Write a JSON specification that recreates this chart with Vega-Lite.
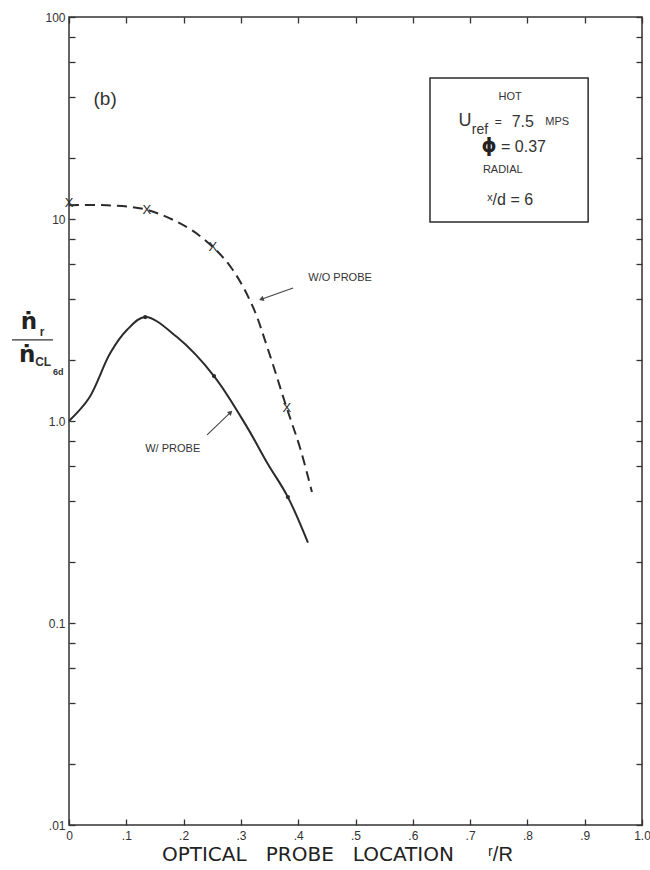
{
  "$schema": "https://vega.github.io/schema/vega-lite/v6.json",
  "width": 573,
  "height": 808,
  "autosize": {"type": "none"},
  "padding": {"left": 69, "top": 17, "right": 8, "bottom": 45},
  "background": "white",
  "config": {
    "view": {"stroke": "#333", "strokeWidth": 1.5},
    "font": "Liberation Sans",
    "axis": {"labelFont": "Liberation Sans", "labelColor": "#333", "tickColor": "#333", "tickWidth": 1.3, "domain": false, "grid": false}
  },
  "datasets": {
    "withProbe": [
      {"x": 0.0, "y": 1.0},
      {"x": 0.035, "y": 1.3},
      {"x": 0.072, "y": 2.17},
      {"x": 0.101, "y": 2.82},
      {"x": 0.133, "y": 3.27},
      {"x": 0.188, "y": 2.61},
      {"x": 0.253, "y": 1.67},
      {"x": 0.311, "y": 0.93},
      {"x": 0.346, "y": 0.62},
      {"x": 0.382, "y": 0.42},
      {"x": 0.417, "y": 0.25}
    ],
    "withoutProbe": [
      {"x": 0.0, "y": 11.7},
      {"x": 0.066, "y": 11.7},
      {"x": 0.136, "y": 11.1},
      {"x": 0.206, "y": 9.1},
      {"x": 0.251, "y": 7.27},
      {"x": 0.286, "y": 5.59},
      {"x": 0.321, "y": 3.67},
      {"x": 0.346, "y": 2.32},
      {"x": 0.38, "y": 1.16},
      {"x": 0.403, "y": 0.74},
      {"x": 0.424, "y": 0.445}
    ],
    "xMarks": [
      {"x": 0.0, "y": 12.0},
      {"x": 0.136, "y": 11.1},
      {"x": 0.251, "y": 7.27},
      {"x": 0.38, "y": 1.16}
    ],
    "dots": [
      {"x": 0.133, "y": 3.27},
      {"x": 0.253, "y": 1.67},
      {"x": 0.382, "y": 0.42}
    ]
  },
  "layer": [
    {
      "data": {"name": "withProbe"},
      "mark": {"type": "line", "interpolate": "catmull-rom", "color": "#2b2b2b", "strokeWidth": 2},
      "encoding": {
        "x": {"field": "x", "type": "quantitative", "scale": {"domain": [0, 1]},
          "axis": {"orient": "bottom", "title": null, "values": [0, 0.1, 0.2, 0.3, 0.4, 0.5, 0.6, 0.7, 0.8, 0.9, 1],
            "labelExpr": "datum.value == 0 ? '0' : datum.value == 1 ? '1.0' : '.' + round(datum.value * 10)",
            "tickSize": -6, "labelPadding": 11, "labelFontSize": 12, "labelFlush": false, "labelOverlap": false}},
        "y": {"field": "y", "type": "quantitative", "scale": {"type": "log", "domain": [0.01, 100]},
          "axis": {"orient": "left", "title": null,
            "values": [0.01, 0.02, 0.04, 0.06, 0.08, 0.1, 0.2, 0.4, 0.6, 0.8, 1, 2, 4, 6, 8, 10, 20, 40, 60, 80, 100],
            "labelExpr": "datum.value == 100 ? '100' : datum.value == 10 ? '10' : datum.value == 1 ? '1.0' : datum.value == 0.1 ? '0.1' : datum.value == 0.01 ? '.01' : ''",
            "tickSize": -6, "labelPadding": 10, "labelFontSize": 12, "labelFlush": false, "labelOverlap": false}}
      }
    },
    {
      "data": {"name": "withoutProbe"},
      "mark": {"type": "line", "interpolate": "catmull-rom", "color": "#2b2b2b", "strokeWidth": 2, "strokeDash": [10, 6]},
      "encoding": {
        "x": {"field": "x", "type": "quantitative",
          "axis": {"orient": "top", "title": null, "values": [0, 0.1, 0.2, 0.3, 0.4, 0.5, 0.6, 0.7, 0.8, 0.9, 1], "labels": false, "tickSize": -6}},
        "y": {"field": "y", "type": "quantitative",
          "axis": {"orient": "right", "title": null,
            "values": [0.01, 0.02, 0.04, 0.06, 0.08, 0.1, 0.2, 0.4, 0.6, 0.8, 1, 2, 4, 6, 8, 10, 20, 40, 60, 80, 100],
            "labels": false, "tickSize": -6}}
      }
    },
    {
      "data": {"name": "xMarks"},
      "mark": {"type": "text", "text": "X", "fontSize": 13, "color": "#2b2b2b", "font": "Liberation Sans"},
      "encoding": {
        "x": {"field": "x", "type": "quantitative", "axis": null},
        "y": {"field": "y", "type": "quantitative", "axis": null}
      }
    },
    {
      "data": {"name": "dots"},
      "mark": {"type": "point", "filled": true, "size": 18, "color": "#2b2b2b", "opacity": 1},
      "encoding": {
        "x": {"field": "x", "type": "quantitative", "axis": null},
        "y": {"field": "y", "type": "quantitative", "axis": null}
      }
    },
    {
      "data": {"values": [{"x": 0.63, "x2": 0.906, "y": 49.9, "y2": 9.67}]},
      "mark": {"type": "rect", "fill": null, "stroke": "#2b2b2b", "strokeWidth": 1.5},
      "encoding": {
        "x": {"field": "x", "type": "quantitative", "axis": null},
        "x2": {"field": "x2"},
        "y": {"field": "y", "type": "quantitative", "axis": null},
        "y2": {"field": "y2"}
      }
    },
    {
      "data": {"values": [
        {"x": 0.77, "y": 40.2, "t": "HOT"},
        {"x": 0.757, "y": 17.5, "t": "RADIAL"},
        {"x": 0.473, "y": 5.1, "t": "W/O PROBE"},
        {"x": 0.181, "y": 0.726, "t": "W/ PROBE"},
        {"x": 0.852, "y": 30.2, "t": "MPS"}
      ]},
      "mark": {"type": "text", "fontSize": 11, "color": "#333", "font": "Liberation Sans", "clip": false},
      "encoding": {
        "x": {"field": "x", "type": "quantitative", "axis": null},
        "y": {"field": "y", "type": "quantitative", "axis": null},
        "text": {"field": "t"}
      }
    },
    {
      "data": {"values": [
        {"x": 0.691, "y": 30.6, "t": "U"}
      ]},
      "mark": {"type": "text", "fontSize": 18, "color": "#333", "font": "Liberation Sans"},
      "encoding": {
        "x": {"field": "x", "type": "quantitative", "axis": null},
        "y": {"field": "y", "type": "quantitative", "axis": null},
        "text": {"field": "t"}
      }
    },
    {
      "data": {"values": [
        {"x": 0.703, "y": 27.6, "t": "ref"}
      ]},
      "mark": {"type": "text", "fontSize": 14, "align": "left", "color": "#333", "font": "Liberation Sans"},
      "encoding": {
        "x": {"field": "x", "type": "quantitative", "axis": null},
        "y": {"field": "y", "type": "quantitative", "axis": null},
        "text": {"field": "t"}
      }
    },
    {
      "data": {"values": [
        {"x": 0.749, "y": 30.2, "t": "="}
      ]},
      "mark": {"type": "text", "fontSize": 12, "color": "#333", "font": "Liberation Sans"},
      "encoding": {
        "x": {"field": "x", "type": "quantitative", "axis": null},
        "y": {"field": "y", "type": "quantitative", "axis": null},
        "text": {"field": "t"}
      }
    },
    {
      "data": {"values": [
        {"x": 0.792, "y": 30.2, "t": "7.5"},
        {"x": 0.77, "y": 12.4, "t": "ˣ/d = 6"}
      ]},
      "mark": {"type": "text", "fontSize": 16, "color": "#333", "font": "Liberation Sans"},
      "encoding": {
        "x": {"field": "x", "type": "quantitative", "axis": null},
        "y": {"field": "y", "type": "quantitative", "axis": null},
        "text": {"field": "t"}
      }
    },
    {
      "data": {"values": [
        {"x": 0.733, "y": 22.9, "t": "ϕ"}
      ]},
      "mark": {"type": "text", "fontSize": 19, "fontWeight": "bold", "color": "#222", "font": "DejaVu Sans"},
      "encoding": {
        "x": {"field": "x", "type": "quantitative", "axis": null},
        "y": {"field": "y", "type": "quantitative", "axis": null},
        "text": {"field": "t"}
      }
    },
    {
      "data": {"values": [
        {"x": 0.754, "y": 22.7, "t": "= 0.37"}
      ]},
      "mark": {"type": "text", "fontSize": 16, "align": "left", "color": "#333", "font": "Liberation Sans"},
      "encoding": {
        "x": {"field": "x", "type": "quantitative", "axis": null},
        "y": {"field": "y", "type": "quantitative", "axis": null},
        "text": {"field": "t"}
      }
    },
    {
      "data": {"values": [
        {"x": 0.063, "y": 39.3, "t": "(b)"}
      ]},
      "mark": {"type": "text", "fontSize": 19, "color": "#333", "font": "Liberation Sans"},
      "encoding": {
        "x": {"field": "x", "type": "quantitative", "axis": null},
        "y": {"field": "y", "type": "quantitative", "axis": null},
        "text": {"field": "t"}
      }
    },
    {
      "data": {"values": [
        {"x": 0.391, "y": 4.55, "x2": 0.337, "y2": 4.02},
        {"x": 0.241, "y": 0.853, "x2": 0.281, "y2": 1.096}
      ]},
      "mark": {"type": "rule", "color": "#444", "strokeWidth": 1.1},
      "encoding": {
        "x": {"field": "x", "type": "quantitative", "axis": null},
        "y": {"field": "y", "type": "quantitative", "axis": null},
        "x2": {"field": "x2"},
        "y2": {"field": "y2"}
      }
    },
    {
      "data": {"values": [{"x": 0.337, "y": 4.02}]},
      "mark": {"type": "point", "shape": "triangle", "angle": 250, "filled": true, "size": 30, "color": "#444", "opacity": 1},
      "encoding": {
        "x": {"field": "x", "type": "quantitative", "axis": null},
        "y": {"field": "y", "type": "quantitative", "axis": null}
      }
    },
    {
      "data": {"values": [{"x": 0.281, "y": 1.096}]},
      "mark": {"type": "point", "shape": "triangle", "angle": 46, "filled": true, "size": 30, "color": "#444", "opacity": 1},
      "encoding": {
        "x": {"field": "x", "type": "quantitative", "axis": null},
        "y": {"field": "y", "type": "quantitative", "axis": null}
      }
    },
    {
      "data": {"values": [
        {"x": -0.07, "y": 3.09, "t": "ṅ"},
        {"x": -0.073, "y": 2.12, "t": "ṅ"}
      ]},
      "mark": {"type": "text", "fontSize": 23, "fontWeight": "bold", "color": "#222", "font": "DejaVu Sans", "clip": false},
      "encoding": {
        "x": {"field": "x", "type": "quantitative", "axis": null},
        "y": {"field": "y", "type": "quantitative", "axis": null},
        "text": {"field": "t"}
      }
    },
    {
      "data": {"values": [
        {"x": -0.051, "y": 2.75, "t": "r"},
        {"x": -0.059, "y": 1.95, "t": "CL"}
      ]},
      "mark": {"type": "text", "fontSize": 12, "fontWeight": "bold", "align": "left", "color": "#333", "font": "Liberation Sans", "clip": false},
      "encoding": {
        "x": {"field": "x", "type": "quantitative", "axis": null},
        "y": {"field": "y", "type": "quantitative", "axis": null},
        "text": {"field": "t"}
      }
    },
    {
      "data": {"values": [
        {"x": -0.028, "y": 1.74, "t": "6d"}
      ]},
      "mark": {"type": "text", "fontSize": 9, "fontWeight": "bold", "align": "left", "color": "#333", "font": "Liberation Sans", "clip": false},
      "encoding": {
        "x": {"field": "x", "type": "quantitative", "axis": null},
        "y": {"field": "y", "type": "quantitative", "axis": null},
        "text": {"field": "t"}
      }
    },
    {
      "data": {"values": [{"x": -0.0995, "x2": -0.028, "y": 2.52}]},
      "mark": {"type": "rule", "color": "#333", "strokeWidth": 1.3, "clip": false},
      "encoding": {
        "x": {"field": "x", "type": "quantitative", "axis": null},
        "x2": {"field": "x2"},
        "y": {"field": "y", "type": "quantitative", "axis": null}
      }
    },
    {
      "data": {"values": [
        {"x": 0.417, "y": 0.0071, "t": "OPTICAL\u00a0\u00a0\u00a0PROBE\u00a0\u00a0\u00a0LOCATION"}
      ]},
      "mark": {"type": "text", "fontSize": 20, "color": "#222", "font": "DejaVu Sans", "clip": false},
      "encoding": {
        "x": {"field": "x", "type": "quantitative", "axis": null},
        "y": {"field": "y", "type": "quantitative", "axis": null},
        "text": {"field": "t"}
      }
    },
    {
      "data": {"values": [
        {"x": 0.753, "y": 0.0071, "t": "ʳ/R"}
      ]},
      "mark": {"type": "text", "fontSize": 20, "color": "#222", "font": "Liberation Sans", "clip": false},
      "encoding": {
        "x": {"field": "x", "type": "quantitative", "axis": null},
        "y": {"field": "y", "type": "quantitative", "axis": null},
        "text": {"field": "t"}
      }
    }
  ],
  "resolve": {"axis": {"x": "independent", "y": "independent"}}
}
